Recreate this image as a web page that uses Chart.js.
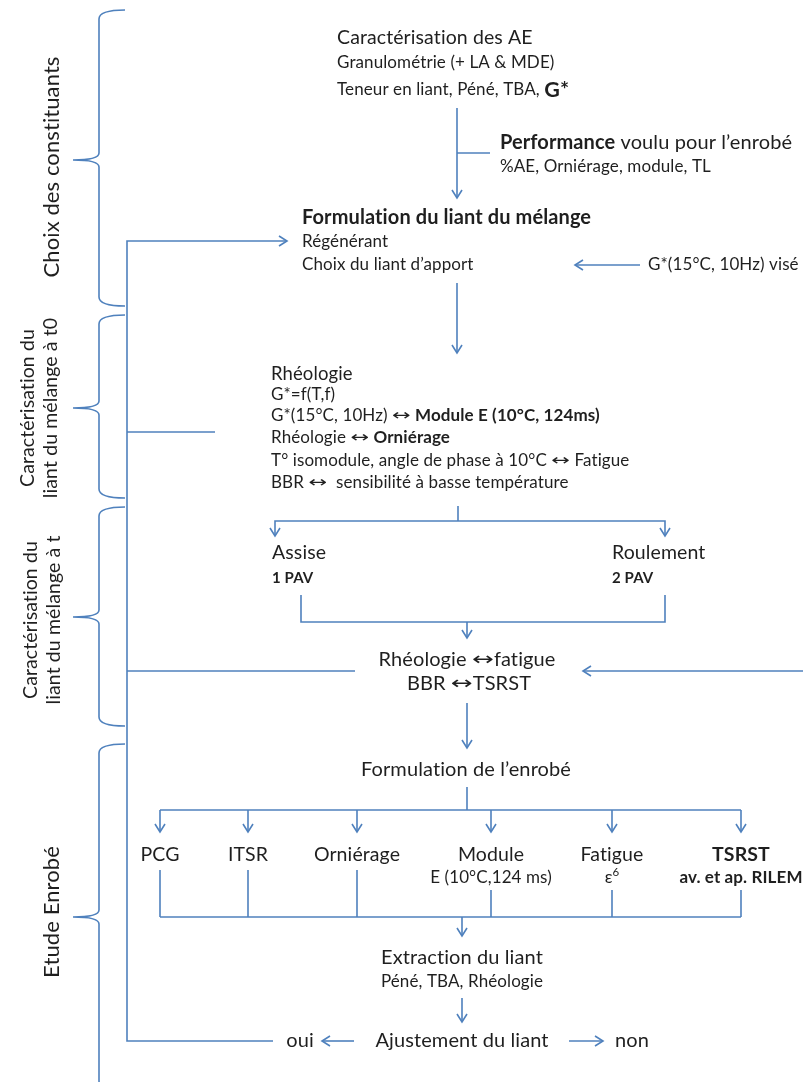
<!DOCTYPE html>
<html>
<head>
<meta charset="utf-8">
<script src="https://cdn.jsdelivr.net/npm/chart.js@4"></script>
<style>
  html, body { margin: 0; background: #fff; }
  canvas { display: block; }
</style>
</head>
<body>
<canvas id="flow" width="803" height="1082"></canvas>
<script>
const BLUE = '#4F81BD';
const INK = '#1f1f1f';
const FONT = 'Lato, "Open Sans", sans-serif';
const ARROW_FONT = '"DejaVu Sans", sans-serif';

// stages shown on the left, each with a brace
const stageLabels = [
  ['Choix des constituants'],
  ['Caractérisation du', 'liant du mélange à t0'],
  ['Caractérisation du', 'liant du mélange à t'],
  ['Etude Enrobé']
];
const braceTop = [10, 315, 507, 744];
const braceMid = [160, 408, 617, 917];
const braceBottom = [306, 498, 726, 1090];
const stageLabelY = [167, 408, 620, 912];

// tests run on the mix
const testNames = ['PCG', 'ITSR', 'Orniérage', 'Module', 'Fatigue', 'TSRST'];
const testDetails = ['', '', '', 'E (10°C,124 ms)', 'ε', 'av. et ap. RILEM'];
const testX = [160, 248, 357, 491, 612, 741];
const testLineTop = [870, 870, 870, 890, 890, 890];

// plain connectors
const lines = [
  [[457, 153], [490, 153]],
  [[127, 432], [215, 432]],
  [[458, 506], [458, 521]],
  [[301, 595], [301, 622], [665, 622], [665, 595]],
  [[127, 671], [355, 671]],
  [[467, 787], [467, 810]],
  [[160, 810], [741, 810]],
  [[160, 917], [741, 917]]
];

// connectors that end with an arrow head
const arrows = [
  [[273, 1041], [127, 1041], [127, 241], [287, 241]],
  [[457, 108], [457, 198]],
  [[640, 265], [575, 265]],
  [[457, 283], [457, 353]],
  [[458, 521], [275, 521], [275, 536]],
  [[458, 521], [665, 521], [665, 536]],
  [[467, 622], [467, 638]],
  [[803, 671], [583, 671]],
  [[467, 703], [467, 748]],
  [[462, 917], [462, 936]],
  [[462, 998], [462, 1022]],
  [[354, 1041], [322, 1041]],
  [[569, 1041], [603, 1041]]
];

testX.forEach((x, i) => {
  arrows.push([[x, 810], [x, 832]]);
  lines.push([[x, testLineTop[i]], [x, 917]]);
});

const BIG = 20, SMALL = 17;
const LR = ['↔', SMALL, false, 0, 'arrow'];
const LRB = ['↔', BIG, false, 0, 'arrow'];

// text runs: [text, size, bold, dy, kind]
const texts = [
  { x: 337, y: 38, runs: [['Caractérisation des AE', 19.5]] },
  { x: 337, y: 63, runs: [['Granulométrie (+ LA & MDE)', SMALL]] },
  { x: 337, y: 90, runs: [['Teneur en liant, Péné, TBA, ', SMALL], ['G*', 21.5, true]] },
  { x: 500, y: 143, runs: [['Performance', BIG, true], [' voulu pour l’enrobé', BIG]] },
  { x: 500, y: 167, runs: [['%AE, Orniérage, module, TL', SMALL]] },
  { x: 302, y: 218, runs: [['Formulation du liant du mélange', BIG, true]] },
  { x: 302, y: 242, runs: [['Régénérant', SMALL]] },
  { x: 302, y: 265, runs: [['Choix du liant d’apport', SMALL]] },
  { x: 648, y: 265, runs: [['G*(15°C, 10Hz) visé', SMALL]] },
  { x: 271, y: 374, runs: [['Rhéologie', 18.5]] },
  { x: 271, y: 395, runs: [['G*=f(T,f)', SMALL]] },
  { x: 271, y: 416, runs: [['G*(15°C, 10Hz) ', SMALL], LR, [' Module E (10°C, 124ms)', SMALL, true]] },
  { x: 271, y: 438, runs: [['Rhéologie ', SMALL], LR, [' Orniérage', SMALL, true]] },
  { x: 271, y: 461, runs: [['T° isomodule, angle de phase à 10°C ', SMALL], LR, [' Fatigue', SMALL]] },
  { x: 271, y: 483, runs: [['BBR ', SMALL], LR, ['  sensibilité à basse température', SMALL]] },
  { x: 272, y: 553, runs: [['Assise', 19.5]] },
  { x: 272, y: 578, runs: [['1 PAV', 15, true]] },
  { x: 612, y: 553, runs: [['Roulement', 19.5]] },
  { x: 612, y: 578, runs: [['2 PAV', 15, true]] },
  { x: 467, y: 660, align: 'center', runs: [['Rhéologie ', BIG], LRB, ['fatigue', BIG]] },
  { x: 469, y: 684, align: 'center', runs: [['BBR ', BIG], LRB, ['TSRST', BIG]] },
  { x: 466, y: 770, align: 'center', runs: [['Formulation de l’enrobé', BIG]] },
  { x: 462, y: 958, align: 'center', runs: [['Extraction du liant', BIG]] },
  { x: 462, y: 982, align: 'center', runs: [['Péné, TBA, Rhéologie', SMALL]] },
  { x: 300, y: 1041, align: 'center', runs: [['oui', BIG]] },
  { x: 462, y: 1041, align: 'center', runs: [['Ajustement du liant', BIG]] },
  { x: 632, y: 1041, align: 'center', runs: [['non', BIG]] }
];

testNames.forEach((name, i) => {
  const bold = name === 'TSRST';
  texts.push({ x: testX[i], y: 855, align: 'center', runs: [[name, 19.5, bold]] });
  if (testDetails[i] === 'ε') {
    texts.push({ x: testX[i], y: 878, align: 'center', runs: [['ε', SMALL], ['6', 11.5, false, -6]] });
  } else if (testDetails[i]) {
    texts.push({ x: testX[i], y: 878, align: 'center', runs: [[testDetails[i], SMALL, bold]] });
  }
});

function headFor(path) {
  const [ax, ay] = path[path.length - 2];
  const [bx, by] = path[path.length - 1];
  const len = Math.hypot(bx - ax, by - ay);
  const dx = (bx - ax) / len, dy = (by - ay) / len;
  const L = 8, W = 5;
  return [
    { x: bx - dx * L - dy * W, y: by - dy * L + dx * W },
    { x: bx, y: by },
    { x: bx - dx * L + dy * W, y: by - dy * L - dx * W }
  ];
}

const toPts = path => path.map(([x, y]) => ({ x, y }));
const lineSet = data => ({
  data, showLine: true, borderColor: BLUE, borderWidth: 1.6,
  pointRadius: 0, fill: false, tension: 0
});

const datasets = [];
lines.forEach(p => datasets.push(lineSet(toPts(p))));
arrows.forEach(p => {
  datasets.push(lineSet(toPts(p)));
  datasets.push(lineSet(headFor(p)));
});

const bracesAndText = {
  id: 'bracesAndText',
  afterDatasetsDraw(chart) {
    const { ctx, scales: { x, y } } = chart;
    const px = v => x.getPixelForValue(v);
    const py = v => y.getPixelForValue(v);

    // braces
    ctx.save();
    ctx.strokeStyle = BLUE;
    ctx.lineWidth = 1.6;
    const spine = 99, tip = 125, point = 73;
    braceTop.forEach((top, i) => {
      const mid = braceMid[i], bot = braceBottom[i];
      ctx.beginPath();
      ctx.moveTo(px(tip), py(top));
      ctx.quadraticCurveTo(px(spine), py(top), px(spine), py(top + 9));
      ctx.lineTo(px(spine), py(mid - 7));
      ctx.quadraticCurveTo(px(spine), py(mid), px(point), py(mid));
      ctx.quadraticCurveTo(px(spine), py(mid), px(spine), py(mid + 7));
      ctx.lineTo(px(spine), py(bot - 9));
      ctx.quadraticCurveTo(px(spine), py(bot), px(tip), py(bot));
      ctx.stroke();
    });
    ctx.restore();

    // a tiny letter spacing keeps Lato from merging "ti" into a ligature
    const noLig = () => { if ('letterSpacing' in ctx) ctx.letterSpacing = '0.1px'; };

    // stage labels, rotated
    ctx.save();
    noLig();
    ctx.fillStyle = INK;
    ctx.textAlign = 'center';
    ctx.textBaseline = 'middle';
    stageLabels.forEach((label, i) => {
      const cy = py(stageLabelY[i]);
      const big = label.length === 1;
      const size = big ? 22 : 19.5;
      const cols = big ? [52] : (i === 1 ? [28, 51] : [31, 54]);
      label.forEach((line, j) => {
        ctx.save();
        ctx.translate(px(cols[j]), cy);
        ctx.rotate(-Math.PI / 2);
        ctx.font = `${size}px ${FONT}`;
        ctx.fillText(line, 0, 0);
        ctx.restore();
      });
    });
    ctx.restore();

    // node texts
    ctx.save();
    noLig();
    ctx.fillStyle = INK;
    ctx.textBaseline = 'middle';
    ctx.textAlign = 'left';
    const STRETCH = 1.45;
    const fontOf = r => r[4] === 'arrow'
      ? `${r[1] * 0.9}px ${ARROW_FONT}`
      : `${r[2] ? 'bold ' : ''}${r[1]}px ${FONT}`;
    const widthOf = r => {
      ctx.font = fontOf(r);
      const w = ctx.measureText(r[0]).width;
      return r[4] === 'arrow' ? w * STRETCH : w;
    };
    texts.forEach(t => {
      const total = t.runs.reduce((s, r) => s + widthOf(r), 0);
      let cx = px(t.x) - (t.align === 'center' ? total / 2 : 0);
      const cy = py(t.y);
      t.runs.forEach(r => {
        const w = widthOf(r);
        ctx.font = fontOf(r);
        if (r[4] === 'arrow') {
          ctx.save();
          ctx.translate(cx, cy);
          ctx.scale(STRETCH, 1);
          ctx.fillText(r[0], 0, 0);
          ctx.restore();
        } else {
          ctx.fillText(r[0], cx, cy + (r[3] || 0));
        }
        cx += w;
      });
    });
    ctx.restore();
  }
};

new Chart(document.getElementById('flow'), {
  type: 'scatter',
  data: { datasets },
  options: {
    responsive: false,
    animation: false,
    events: [],
    layout: { padding: 0 },
    scales: {
      x: { type: 'linear', min: 0, max: 803, display: false },
      y: { type: 'linear', min: 0, max: 1082, reverse: true, display: false }
    },
    plugins: { legend: { display: false }, tooltip: { enabled: false } }
  },
  plugins: [bracesAndText]
});
</script>
</body>
</html>
